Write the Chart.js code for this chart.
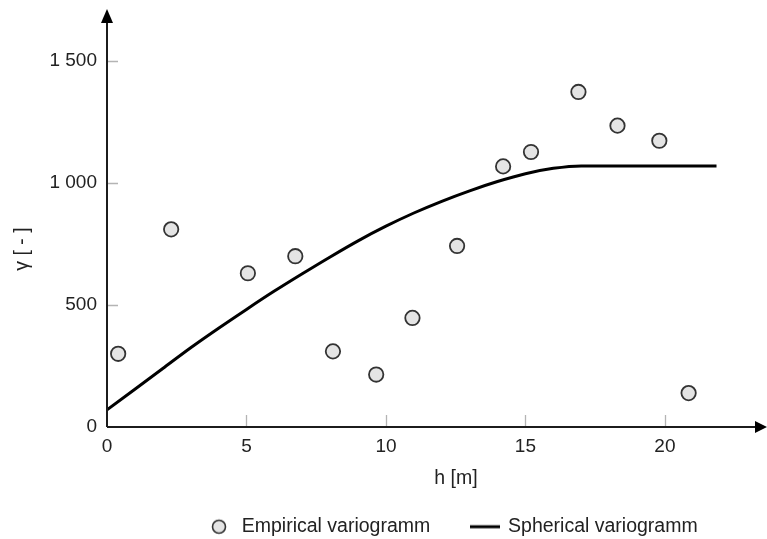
<!DOCTYPE html>
<html>
<head>
<meta charset="utf-8">
<script src="https://cdn.jsdelivr.net/npm/chart.js@4.4.1/dist/chart.umd.min.js"></script>
<style>
  html, body { margin: 0; padding: 0; background: #fff; }
  #wrap { width: 767px; height: 539px; }
</style>
</head>
<body>
<div id="wrap"><canvas id="c" width="767" height="539"></canvas></div>
<script>
// Empirical semivariance per lag class
const lagDistance = [0.4, 2.3, 5.05, 6.75, 8.1, 9.65, 10.95, 12.55, 14.2, 15.2, 16.9, 18.3, 19.8, 20.85];
const empiricalGamma = [300, 810, 630, 700, 310, 215, 447, 742, 1068, 1127, 1373, 1235, 1173, 139];

// Fitted spherical model, sampled along the lag axis
const modelLag = [0, 1, 2, 3, 4, 5, 6, 7, 8, 9, 10, 11, 12, 13, 14, 15, 16, 17, 21.85];
const modelGamma = [70, 155, 240, 325, 405, 482, 557, 628, 697, 763, 823, 877, 925, 968, 1006, 1038, 1060, 1070, 1070];

// Axis ticks and labels
const xTicks = [0, 5, 10, 15, 20];
const xTickLabels = ['0', '5', '10', '15', '20'];
const yTicks = [0, 500, 1000, 1500];
const yTickLabels = ['0', '500', '1 000', '1 500'];

const seriesNames = ['Empirical variogramm', 'Spherical variogramm'];
const axisTitleX = 'h [m]';
const axisTitleY = 'γ [ - ]';

const FONT = "'Liberation Sans', Arial, sans-serif";
const INK = '#222';

// Small canvases used as legend symbols
function legendSymbol(kind) {
  const cv = document.createElement('canvas');
  cv.width = 30; cv.height = 18;
  const g = cv.getContext('2d');
  if (kind === 'circle') {
    g.beginPath();
    g.arc(15, 9, 6.5, 0, Math.PI * 2);
    g.fillStyle = '#e4e4e4';
    g.fill();
    g.lineWidth = 1.6;
    g.strokeStyle = '#333';
    g.stroke();
  } else {
    g.fillStyle = '#000';
    g.fillRect(0, 7.5, 30, 3);
  }
  return cv;
}
const legendSymbols = [legendSymbol('circle'), legendSymbol('line')];

// Arrowed axes, inner tick marks and axis titles
const axisDecor = {
  id: 'axisDecor',
  afterLayout(chart) {
    const lg = chart.legend;
    const h = lg.height;
    lg.left = 164; lg.right = lg.left + lg.width;
    lg.top = 475; lg.bottom = lg.top + h;
  },
  afterDraw(chart) {
    const { ctx, chartArea: a, scales: { x, y } } = chart;
    const x0 = x.getPixelForValue(0);
    const y0 = y.getPixelForValue(0);
    ctx.save();
    ctx.strokeStyle = '#b4b4b4';
    ctx.lineWidth = 1.3;
    ctx.beginPath();
    xTicks.slice(1).forEach(v => {
      const px = Math.round(x.getPixelForValue(v)) + 0.5;
      ctx.moveTo(px, y0 - 12); ctx.lineTo(px, y0);
    });
    yTicks.slice(1).forEach(v => {
      const py = Math.round(y.getPixelForValue(v)) + 0.5;
      ctx.moveTo(x0, py); ctx.lineTo(x0 + 11, py);
    });
    ctx.stroke();

    ctx.strokeStyle = '#1c1c1c';
    ctx.lineWidth = 2;
    ctx.beginPath();
    ctx.moveTo(x0, y0); ctx.lineTo(a.right - 8, y0);
    ctx.moveTo(x0, y0); ctx.lineTo(x0, a.top + 8);
    ctx.stroke();

    ctx.fillStyle = '#000';
    ctx.beginPath();
    ctx.moveTo(a.right, y0); ctx.lineTo(a.right - 12, y0 - 6); ctx.lineTo(a.right - 12, y0 + 6);
    ctx.closePath(); ctx.fill();
    ctx.beginPath();
    ctx.moveTo(x0, a.top); ctx.lineTo(x0 - 6, a.top + 14); ctx.lineTo(x0 + 6, a.top + 14);
    ctx.closePath(); ctx.fill();

    ctx.fillStyle = INK;
    ctx.font = '19.5px ' + FONT;
    ctx.textAlign = 'center';
    ctx.textBaseline = 'middle';
    ctx.fillText(axisTitleX, 456, 479);
    ctx.translate(23, 249);
    ctx.rotate(-Math.PI / 2);
    ctx.fillText(axisTitleY, 0, 0);
    ctx.restore();
  }
};

new Chart(document.getElementById('c'), {
  type: 'scatter',
  data: {
    datasets: [
      {
        label: seriesNames[0],
        data: lagDistance.map((h, i) => ({ x: h, y: empiricalGamma[i] })),
        pointRadius: 7.2,
        pointBorderWidth: 1.8,
        pointBackgroundColor: '#e4e4e4',
        pointBorderColor: '#333',
        showLine: false
      },
      {
        type: 'line',
        label: seriesNames[1],
        data: modelLag.map((h, i) => ({ x: h, y: modelGamma[i] })),
        borderColor: '#000',
        borderWidth: 3,
        pointRadius: 0,
        fill: false,
        cubicInterpolationMode: 'monotone'
      }
    ]
  },
  options: {
    responsive: false,
    animation: false,
    devicePixelRatio: 1,
    layout: { autoPadding: false, padding: { top: 9, left: 0, right: 0, bottom: 0 } },
    plugins: {
      tooltip: { enabled: false },
      legend: {
        position: 'bottom',
        align: 'start',
        labels: {
          usePointStyle: true,
          pointStyleWidth: 26,
          padding: 42,
          color: INK,
          font: { family: FONT, size: 19.5 },
          generateLabels: (chart) => chart.data.datasets.map((ds, i) => ({
            text: ds.label,
            pointStyle: legendSymbols[i],
            fontColor: INK,
            fillStyle: 'transparent',
            strokeStyle: 'transparent',
            lineWidth: 0,
            hidden: false,
            datasetIndex: i
          }))
        }
      }
    },
    scales: {
      x: {
        type: 'linear',
        min: 0,
        max: 23.66,
        grid: { display: false, drawTicks: false },
        border: { display: false },
        afterBuildTicks: s => { s.ticks = xTicks.map(v => ({ value: v })); },
        afterFit: s => { s.height = 40.5; s.paddingLeft = 0; s.paddingRight = 0; },
        ticks: {
          padding: 8,
          color: INK,
          autoSkip: false,
          maxRotation: 0,
          font: { family: FONT, size: 19 },
          callback: (v, i) => xTickLabels[i]
        }
      },
      y: {
        type: 'linear',
        min: 0,
        max: 1713,
        grid: { display: false, drawTicks: false },
        border: { display: false },
        afterBuildTicks: s => { s.ticks = yTicks.map(v => ({ value: v })); },
        afterFit: s => { s.width = 107; s.paddingTop = 0; s.paddingBottom = 0; },
        ticks: {
          padding: 10,
          color: INK,
          font: { family: FONT, size: 19 },
          callback: (v, i) => yTickLabels[i]
        }
      }
    }
  },
  plugins: [axisDecor]
});
</script>
</body>
</html>
